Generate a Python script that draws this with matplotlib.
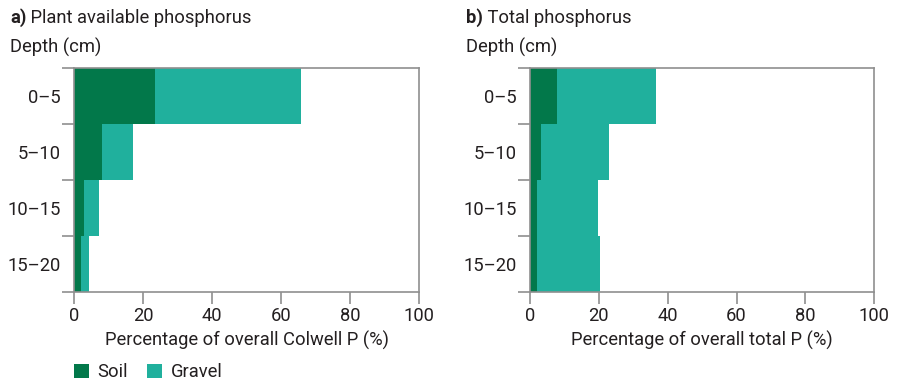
import matplotlib.pyplot as plt
from matplotlib.patches import Patch

plt.rcParams['font.family'] = ['Roboto', 'DejaVu Sans']

depths = ['0–5', '5–10', '10–15', '15–20']

# plant available (Colwell) P, % of overall
colwell_soil = [23.5, 8.0, 2.9, 2.0]
colwell_gravel = [42.2, 9.2, 4.3, 2.4]

# total P, % of overall
total_soil = [7.9, 3.2, 2.0, 2.0]
total_gravel = [28.7, 19.7, 17.9, 18.4]

soil_col = '#02784a'
gravel_col = '#20b09d'
spine_col = '#8f8f8f'
text_col = '#231f20'
fs = 13.2

fig = plt.figure(figsize=(8.99, 3.92), dpi=100)
ax_a = fig.add_axes([0.0823, 0.255, 0.3838, 0.5714])
ax_b = fig.add_axes([0.5895, 0.255, 0.3830, 0.5714])

panels = [
    (ax_a, colwell_soil, colwell_gravel, 'a)', ' Plant available phosphorus',
     'Percentage of overall Colwell P (%)'),
    (ax_b, total_soil, total_gravel, 'b)', ' Total phosphorus',
     'Percentage of overall total P (%)'),
]

ypos = list(range(len(depths)))
for ax, soil, gravel, tag, title, xlabel in panels:
    ax.barh(ypos, soil, height=1.0, color=soil_col, linewidth=0)
    ax.barh(ypos, gravel, left=soil, height=1.0, color=gravel_col, linewidth=0)
    ax.set_xlim(0, 100)
    ax.set_ylim(3.5, -0.5)
    ax.set_xticks(range(0, 101, 20))
    ax.set_yticks(ypos)
    ax.set_yticklabels(depths)
    ax.set_yticks([-0.5, 0.5, 1.5, 2.5, 3.5], minor=True)
    ax.tick_params(axis='y', which='major', length=0, pad=9.5,
                   labelsize=fs, labelcolor=text_col)
    ax.tick_params(axis='y', which='minor', length=8.6, width=1.2, color=spine_col)
    ax.tick_params(axis='x', length=8.6, width=1.2, color=spine_col, pad=2.5,
                   labelsize=fs, labelcolor=text_col)
    for s in ax.spines.values():
        s.set_color(spine_col)
        s.set_linewidth(1.2)
    ax.set_xlabel(xlabel, fontsize=fs, color=text_col, labelpad=4)

    # panel title and y-axis caption, placed in figure coords
    x0 = ax.get_position().x0 - 64 / 899
    t = fig.text(x0, 1 - 18 / 392, tag, fontsize=fs, fontweight='bold',
                 color=text_col, va='center', ha='left')
    fig.canvas.draw()
    bb = t.get_window_extent()
    fig.text(bb.x1 / fig.bbox.width, 1 - 18 / 392, title, fontsize=fs,
             color=text_col, va='center', ha='left')
    fig.text(x0, 1 - 47 / 392, 'Depth (cm)', fontsize=fs,
             color=text_col, va='center', ha='left')

handles = [Patch(facecolor=soil_col, label='Soil'),
           Patch(facecolor=gravel_col, label='Gravel')]
fig.legend(handles=handles, loc='center left', bbox_to_anchor=(0.074, 0.05),
           ncol=2, frameon=False, handlelength=0.8, handleheight=0.8,
           handletextpad=0.5, columnspacing=1.05, borderaxespad=0,
           prop={'size': fs}, labelcolor=text_col)

fig.savefig('out.png', dpi=100)
